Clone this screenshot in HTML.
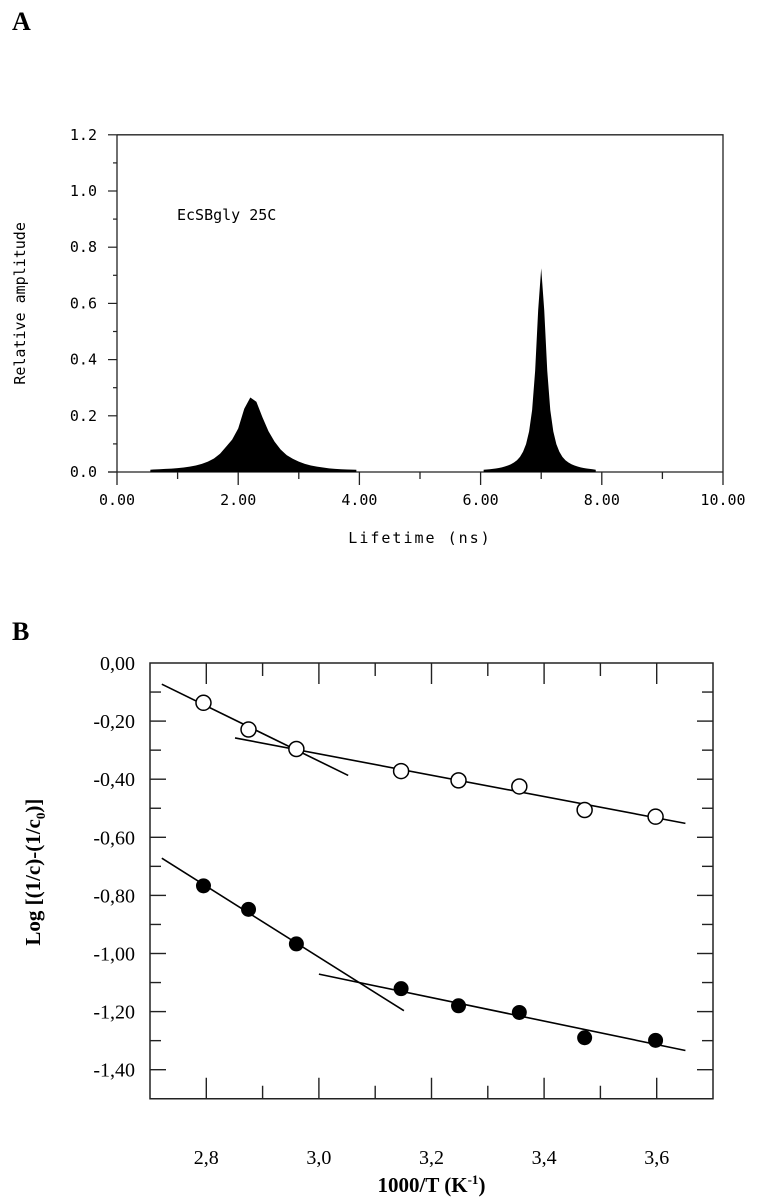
<!DOCTYPE html>
<html><head><meta charset="utf-8"><style>
body{margin:0;background:#fff}
svg{display:block}
.mono{font-family:"DejaVu Sans Mono","Liberation Mono",monospace;font-size:15px}
.ser{font-family:"Liberation Serif",serif}
</style></head><body>
<svg id="fig" width="760" height="1199" viewBox="0 0 760 1199">
<text x="12" y="30" class="ser" font-size="26" font-weight="bold">A</text>
<text x="12" y="640" class="ser" font-size="26" font-weight="bold">B</text>
<g id="pa"></g>
<g id="pb"></g>
</svg>
<script>
// Panel A data
const aXTicks=[0,2,4,6,8,10];
const aXLabels=["0.00","2.00","4.00","6.00","8.00","10.00"];
const aYTicks=[0,0.2,0.4,0.6,0.8,1.0,1.2];
const aYLabels=["0.0","0.2","0.4","0.6","0.8","1.0","1.2"];
const peak1X=[0.55,0.6,0.7,0.8,0.9,1.0,1.1,1.2,1.3,1.4,1.5,1.6,1.7,1.8,1.9,2.0,2.1,2.2,2.3,2.4,2.5,2.6,2.7,2.8,2.9,3.0,3.1,3.2,3.3,3.4,3.5,3.6,3.7,3.8,3.95];
const peak1Y=[0.008,0.009,0.01,0.011,0.012,0.014,0.016,0.019,0.023,0.029,0.037,0.048,0.065,0.09,0.115,0.155,0.225,0.265,0.25,0.195,0.145,0.108,0.08,0.06,0.047,0.037,0.029,0.023,0.019,0.016,0.013,0.011,0.01,0.009,0.008];
const peak2X=[6.05,6.1,6.15,6.2,6.25,6.3,6.35,6.4,6.45,6.5,6.55,6.6,6.65,6.7,6.75,6.8,6.85,6.9,6.95,7.0,7.05,7.1,7.15,7.2,7.25,7.3,7.35,7.4,7.45,7.5,7.55,7.6,7.65,7.7,7.75,7.8,7.85,7.9];
const peak2Y=[0.008,0.0088,0.0098,0.011,0.0126,0.0144,0.0166,0.0195,0.023,0.0277,0.034,0.042,0.054,0.072,0.099,0.144,0.22,0.36,0.576,0.725,0.576,0.36,0.22,0.144,0.099,0.072,0.054,0.042,0.034,0.0277,0.023,0.0195,0.0166,0.0144,0.0126,0.011,0.0098,0.008];
// Panel B data
const bXTicks=[2.8,3.0,3.2,3.4,3.6];
const bXLabels=["2,8","3,0","3,2","3,4","3,6"];
const bYTicks=[0,-0.2,-0.4,-0.6,-0.8,-1.0,-1.2,-1.4];
const bYLabels=["0,00","-0,20","-0,40","-0,60","-0,80","-1,00","-1,20","-1,40"];
const tempX=[2.795,2.875,2.96,3.146,3.248,3.356,3.472,3.598];
const openY=[-0.137,-0.229,-0.296,-0.372,-0.404,-0.425,-0.506,-0.529];
const filledY=[-0.767,-0.848,-0.967,-1.121,-1.180,-1.203,-1.29,-1.299];
const openFitSteepX=[2.721,3.052], openFitSteepY=[-0.073,-0.387];
const openFitShallowX=[2.851,3.651], openFitShallowY=[-0.258,-0.552];
const filledFitSteepX=[2.721,3.151], filledFitSteepY=[-0.672,-1.197];
const filledFitShallowX=[3.0,3.651], filledFitShallowY=[-1.071,-1.334];

const NS="http://www.w3.org/2000/svg";
function mk(p,t,a){const e=document.createElementNS(NS,t);for(const k in a)e.setAttribute(k,a[k]);p.appendChild(e);return e;}

// ---- Panel A ----
const pa=document.getElementById('pa');
const ax=v=>117+v*60.6, ay=v=>472-v*281;
let e;
e=mk(pa,'path',{d:`M${ax(0)} ${ay(1.2)}H${ax(10)}V${ay(0)}M${ax(0)} ${ay(1.2)}V${ay(0)}M108 ${ay(0)}H${ax(10)}`,stroke:'#222',fill:'none','stroke-width':1.3});


for(let i=0;i<=10;i++){const major=i%2==0;e=mk(pa,'line',{x1:ax(i),x2:ax(i),y1:ay(0),y2:ay(0)+(major?13:7),stroke:'#222','stroke-width':1.3});

}
aXTicks.forEach((v,i)=>{e=mk(pa,'text',{x:ax(v),y:505,'text-anchor':'middle',class:'mono','font-size':'16'});e.textContent=aXLabels[i];

});
for(let i=0;i<=12;i++){const major=i%2==0;e=mk(pa,'line',{x1:ax(0)-(major?9:4),x2:ax(0),y1:ay(i/10),y2:ay(i/10),stroke:'#222','stroke-width':1.2});

}
aYTicks.forEach((v,i)=>{e=mk(pa,'text',{x:97,y:ay(v)+5,'text-anchor':'end',class:'mono','font-size':'16'});e.textContent=aYLabels[i];

});
e=mk(pa,'text',{x:ax(5),y:543,'text-anchor':'middle',class:'mono','letter-spacing':'2'});e.textContent='Lifetime (ns)';


e=mk(pa,'text',{x:0,y:0,'text-anchor':'middle',class:'mono',transform:`translate(25,${ay(0.6)}) rotate(-90)`,'font-size':'14'});e.textContent='Relative amplitude';


e=mk(pa,'text',{x:177,y:220,class:'mono','font-size':'16'});e.textContent='EcSBgly 25C';


function area(xs,ys){let d=`M${ax(xs[0])} ${ay(0)}`;xs.forEach((x,i)=>d+=`L${ax(x)} ${ay(ys[i])}`);d+=`L${ax(xs[xs.length-1])} ${ay(0)}Z`;return d;}
e=mk(pa,'path',{d:area(peak1X,peak1Y),fill:'#000'});


e=mk(pa,'path',{d:area(peak2X,peak2Y),fill:'#000'});



// ---- Panel B ----
const pb=document.getElementById('pb');
const bx=v=>150+(v-2.7)*563, by=v=>663-v*290.5;
e=mk(pb,'rect',{x:bx(2.7),y:by(0),width:bx(3.7)-bx(2.7),height:by(-1.5)-by(0),fill:'none',stroke:'#222','stroke-width':1.5});


for(let i=0;i<9;i++){const v=2.8+i*0.1;const major=i%2==0;const L=major?21:13;
e=mk(pb,'line',{x1:bx(v),x2:bx(v),y1:by(-1.5),y2:by(-1.5)-L,stroke:'#222','stroke-width':1.4});


e=mk(pb,'line',{x1:bx(v),x2:bx(v),y1:by(0),y2:by(0)+L,stroke:'#222','stroke-width':1.4});

}
for(let i=1;i<15;i++){const v=-i*0.1;const L=i%2==0?16:11;
e=mk(pb,'line',{x1:bx(2.7),x2:bx(2.7)+L,y1:by(v),y2:by(v),stroke:'#222','stroke-width':1.4});


e=mk(pb,'line',{x1:bx(3.7),x2:bx(3.7)-L,y1:by(v),y2:by(v),stroke:'#222','stroke-width':1.4});

}
bXTicks.forEach((v,i)=>{e=mk(pb,'text',{x:bx(v),y:1164,'text-anchor':'middle',class:'ser','font-size':'20'});e.textContent=bXLabels[i];

});
bYTicks.forEach((v,i)=>{e=mk(pb,'text',{x:135,y:by(v)+7,'text-anchor':'end',class:'ser','font-size':'20'});e.textContent=bYLabels[i];

});
e=mk(pb,'text',{x:bx(3.2),y:1192,'text-anchor':'middle',class:'ser','font-size':'21','font-weight':'bold'});
e.innerHTML='1000/T (K<tspan dy="-8" font-size="13">-1</tspan><tspan dy="8">)</tspan>';


e=mk(pb,'text',{x:0,y:0,'text-anchor':'middle',class:'ser','font-size':'21','font-weight':'bold',transform:`translate(40,${by(-0.72)}) rotate(-90)`});
e.innerHTML='Log [(1/c)-(1/c<tspan dy="5" font-size="13">0</tspan><tspan dy="-5">)]</tspan>';


[[openFitSteepX,openFitSteepY,'open-fit-steep'],[openFitShallowX,openFitShallowY,'open-fit-shallow'],[filledFitSteepX,filledFitSteepY,'filled-fit-steep'],[filledFitShallowX,filledFitShallowY,'filled-fit-shallow']].forEach(f=>{
e=mk(pb,'line',{x1:bx(f[0][0]),y1:by(f[1][0]),x2:bx(f[0][1]),y2:by(f[1][1]),stroke:'#000','stroke-width':1.6});

});
tempX.forEach((x,i)=>{
e=mk(pb,'circle',{cx:bx(x),cy:by(openY[i]),r:7.5,fill:'#fff',stroke:'#000','stroke-width':1.5});


e=mk(pb,'circle',{cx:bx(x),cy:by(filledY[i]),r:7.5,fill:'#000'});

});
</script>
</body></html>
